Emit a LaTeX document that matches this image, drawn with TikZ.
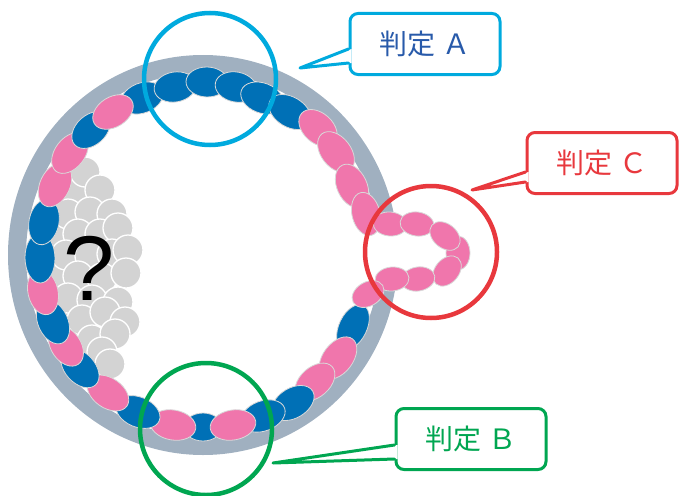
\documentclass[tikz,border=0pt]{standalone}
\usepackage{fontspec}
\newfontfamily\jpfont{Noto Sans CJK JP}
\newfontfamily\qfont{Liberation Sans}
\usetikzlibrary{calc}
\definecolor{ringgrey}{RGB}{160,176,192}
\definecolor{cellblue}{RGB}{0,112,182}
\definecolor{cellpink}{RGB}{240,118,172}
\definecolor{ballgrey}{RGB}{211,211,211}
\definecolor{markA}{RGB}{0,170,222}
\definecolor{markB}{RGB}{0,166,81}
\definecolor{markC}{RGB}{232,56,61}
\definecolor{textA}{RGB}{40,90,170}
\begin{document}
\begin{tikzpicture}[x=1pt,y=-1pt,
  cellline/.style={draw=white!85!black, line width=0.8pt},
  ball/.style={fill=ballgrey, draw=white, line width=1.3pt},
  ringmark/.style={line width=4.5pt},
  callout/.style={draw=#1, line width=3pt, fill=white, rounded corners=8pt,
    minimum width=150pt, minimum height=61pt, inner sep=0pt,
    font=\jpfont\fontsize{28}{30}\selectfont},
  pointer/.style={draw=#1, line width=3pt, line join=round, line cap=round}]
\useasboundingbox (0,0) rectangle (679,495);

% zona: grey band around the embryo
\fill[ringgrey, even odd rule] (203,255) ellipse (195pt and 200pt)
                               (203,255) ellipse (177pt and 182pt);
% opening in the zona where the cells push out
\fill[white] (366,229) rectangle (440,273);

% inner cell mass
\foreach \x/\y in {
  60/200, 55/240, 55/280, 58/320, 70/345,
  72/193, 85/172, 100/190,
  68/214, 90/212, 112/214,
  78/234, 100/234, 118/228,
  66/255, 90/256, 112/254, 128/250,
  78/276, 102/278, 126/273,
  68/298, 92/300, 118/302,
  82/320, 105/312, 125/322,
  92/340, 115/334,
  102/352, 110/364}
  \filldraw[ball] (\x,\y) circle (15pt);

% trophectoderm cells along the zona
\foreach \x/\y/\c/\a/\b in {203/427/cellblue/19/14,
  142/98/cellblue/22/15, 175/87/cellblue/21/15, 207/82/cellblue/21/15,
  236/87/cellblue/21/15, 262/98/cellblue/22/15, 290/112/cellblue/23/15,
  318/128/cellpink/22/15, 336/152/cellpink/23/15, 352/186/cellpink/23/15,
  366/214/cellpink/22/14,
  353/327/cellblue/24/14, 338/358/cellpink/24/15, 315/382/cellpink/23/15,
  293/403/cellblue/23/15, 263/416/cellblue/23/15, 233/425/cellpink/23/15,
  173/425/cellpink/23/15, 138/412/cellblue/23/15, 108/393/cellpink/23/15,
  80/368/cellblue/23/15, 66/346/cellpink/22/15, 53/322/cellblue/23/15,
  43/292/cellpink/23/15, 40/258/cellblue/25/15, 44/222/cellblue/23/15,
  55/185/cellpink/23/15, 70/153/cellpink/23/15, 91/130/cellblue/22/15,
  113/112/cellpink/22/15}
{
  \pgfmathsetmacro\rot{90-atan2(\y-255,\x-203)}
  \filldraw[cellline, fill=\c, rotate around={\rot:(\x,\y)}]
    (\x,\y) ellipse ({\a pt} and {\b pt});
}

% cells herniating through the opening
\foreach \x/\y/\r in {458/253/90, 390/224/-5, 417/224/-8, 445/236/-40,
  447/271/50, 418/279/10, 392/279/5, 368/294/30}
  \filldraw[cellline, fill=cellpink, rotate around={\r:(\x,\y)}]
    (\x,\y) ellipse (17pt and 12pt);

% question mark over the inner cell mass
\node[font=\qfont\fontsize{92}{92}\selectfont, inner sep=0pt] (qmark) at (89,268) {?};

% marked regions
\draw[ringmark, markA] (210,79) circle (66pt);
\draw[ringmark, markC] (431,252) circle (66pt);
\draw[ringmark, markB] (206,429) circle (66pt);

% callouts
\node[callout=markA, text=textA] (boxA) at (425,44) {判定 Ａ};
\node[callout=markC, text=markC] (boxC) at (602,163) {判定 Ｃ};
\node[callout=markB, text=markB] (boxB) at (471,439) {判定 Ｂ};

\coordinate (tipA) at (300,68);
\coordinate (tipC) at (472,190);
\coordinate (tipB) at (273,463);

\fill[white] ($(boxA.west)+(3,5)$) -- (tipA) -- ($(boxA.west)+(3,19)$) -- cycle;
\draw[pointer=markA] ($(boxA.west)+(0,5)$) -- (tipA) -- ($(boxA.west)+(0,19)$);
\fill[white] ($(boxC.west)+(3,9)$) -- (tipC) -- ($(boxC.west)+(3,19)$) -- cycle;
\draw[pointer=markC] ($(boxC.west)+(0,9)$) -- (tipC) -- ($(boxC.west)+(0,19)$);
\fill[white] ($(boxB.west)+(3,6)$) -- (tipB) -- ($(boxB.west)+(3,20)$) -- cycle;
\draw[pointer=markB] ($(boxB.west)+(0,6)$) -- (tipB) -- ($(boxB.west)+(0,20)$);
\end{tikzpicture}
\end{document}
